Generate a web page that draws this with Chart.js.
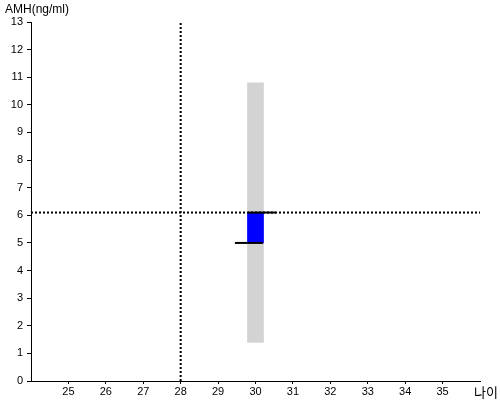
<!DOCTYPE html>
<html>
<head>
<meta charset="utf-8">
<script src="https://cdn.jsdelivr.net/npm/chart.js@4"></script>
<style>
  body { margin: 0; background: #fff; }
  #wrap { width: 500px; height: 400px; }
</style>
</head>
<body>
<div id="wrap"><canvas id="amhChart" width="500" height="400"></canvas></div>
<script>
// data
const ageTicks = [25, 26, 27, 28, 29, 30, 31, 32, 33, 34, 35];
const rangeBar = [{ x: 30, y: [1.4, 10.8] }];   // grey normal range
const valueBar = [{ x: 30, y: [5.0, 6.1] }];    // blue measured box
const upperMark = [{ x: 29.8, y: 6.1 }, { x: 30.55, y: 6.1 }];
const lowerMark = [{ x: 29.45, y: 5.0 }, { x: 30.2, y: 5.0 }];
const ageLine = [{ x: 28, y: 0 }, { x: 28, y: 13 }];
const amhLine = [{ x: 24, y: 6.1 }, { x: 36, y: 6.1 }];

const tickFont = { family: "'Liberation Sans', Arial, sans-serif", size: 11 };

// axis titles drawn at the corners
const axisTitles = {
  id: "axisTitles",
  afterDraw(chart) {
    const ctx = chart.ctx;
    ctx.save();
    ctx.fillStyle = "#000";
    ctx.font = "12px 'Liberation Sans', Arial, sans-serif";
    ctx.textBaseline = "middle";
    ctx.textAlign = "left";
    ctx.fillText("AMH(ng/ml)", 5, 10);
    ctx.font = "13px 'Noto Sans CJK KR', sans-serif";
    ctx.fillText("나이", 474, 392);
    ctx.restore();
  },
};

new Chart(document.getElementById("amhChart").getContext("2d"), {
  type: "bar",
  data: {
    datasets: [
      {
        label: "range",
        data: rangeBar,
        backgroundColor: "#d3d3d3",
        barThickness: 16,
        grouped: false,
        order: 5,
      },
      {
        label: "value",
        data: valueBar,
        backgroundColor: "#0000ff",
        barThickness: 16,
        grouped: false,
        order: 4,
      },
      {
        type: "line",
        label: "upper",
        data: upperMark,
        borderColor: "#000",
        borderWidth: 2,
        pointRadius: 0,
        order: 1,
      },
      {
        type: "line",
        label: "lower",
        data: lowerMark,
        borderColor: "#000",
        borderWidth: 2,
        pointRadius: 0,
        order: 1,
      },
      {
        type: "line",
        label: "age",
        data: ageLine,
        borderColor: "#000",
        borderWidth: 2,
        borderDash: [2, 2],
        pointRadius: 0,
        order: 2,
      },
      {
        type: "line",
        label: "amh",
        data: amhLine,
        borderColor: "#000",
        borderWidth: 2,
        borderDash: [2, 2],
        pointRadius: 0,
        order: 2,
      },
    ],
  },
  options: {
    responsive: false,
    animation: false,
    layout: { padding: { top: 22, right: 20, left: 0, bottom: 0 } },
    plugins: {
      legend: { display: false },
      tooltip: { enabled: false },
    },
    scales: {
      x: {
        type: "linear",
        min: 24,
        max: 36,
        offset: false,
        afterBuildTicks(scale) {
          scale.ticks = ageTicks.map((v) => ({ value: v }));
        },
        afterFit(scale) {
          scale.height = 19;
        },
        border: { color: "#000", width: 1 },
        grid: { offset: false, drawOnChartArea: false, drawTicks: true, tickLength: 3, color: "#000" },
        ticks: { color: "#000", font: tickFont, padding: 1, maxRotation: 0 },
      },
      y: {
        min: 0,
        max: 13,
        afterFit(scale) {
          scale.width = 31;
        },
        border: { color: "#000", width: 1 },
        grid: { drawOnChartArea: false, drawTicks: true, tickLength: 4, color: "#000" },
        ticks: { stepSize: 1, color: "#000", font: tickFont, padding: 4 },
      },
    },
  },
  plugins: [axisTitles],
});
</script>
</body>
</html>
